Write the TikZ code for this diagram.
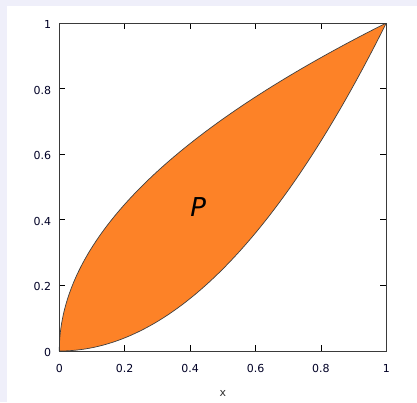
\documentclass[tikz,border=0pt]{standalone}
\usepackage{fontspec}
\setmainfont{DejaVu Sans}
\definecolor{lav}{HTML}{EFEFFA}
\definecolor{fillor}{HTML}{FD8227}
\definecolor{framegray}{HTML}{3A3A3A}
\begin{document}
\begin{tikzpicture}[x=1pt,y=1pt,
  ticklab/.style={font=\fontsize{11}{13}\selectfont, text=black!85!blue, inner sep=0pt},
  tickmark/.style={line width=0.8pt, black}]
\useasboundingbox (0,0) rectangle (417,402);
\fill[lav] (0,0) rectangle (417,402);
\fill[white] (7,0) rectangle (417,396);
\begin{scope}[shift={(59.3,51)}, x=327pt, y=328pt]
  % region
  \fill[fillor] plot[domain=0:1, samples=200, variable=\t] ({\t*\t},{\t})
       -- plot[domain=1:0, samples=100, variable=\t] ({\t},{\t*\t}) -- cycle;
  \draw[black!75, line width=0.7pt] plot[domain=0:1, samples=200, variable=\t] ({\t*\t},{\t});
  \draw[black!75, line width=0.7pt] plot[domain=0:1, samples=100, variable=\t] ({\t},{\t*\t});
  % ticks
  \foreach \v in {0.2,0.4,0.6,0.8} {
    \draw[tickmark] (\v,0) -- ++(0,6pt);
    \draw[tickmark] (\v,1) -- ++(0,-6pt);
    \draw[tickmark] (0,\v) -- ++(6pt,0);
    \draw[tickmark] (1,\v) -- ++(-6pt,0);
  }
  % frame
  \draw[framegray, line width=0.9pt] (0,0) rectangle (1,1);
  % labels
  \foreach \v/\l in {0/0,0.2/0.2,0.4/0.4,0.6/0.6,0.8/0.8,1/1} {
    \node[ticklab, anchor=east] (yl\l) at ([xshift=-8pt,yshift=-1.5pt]0,\v) {\l};
    \node[ticklab] (xl\l) at ([yshift=-17pt]\v,0) {\l};
  }
  \node[font=\fontsize{11}{13}\selectfont, text=black!80, inner sep=0pt] (xlab) at ([yshift=-42pt]0.5,0) {x};
  \node[font=\fontsize{26}{30}\selectfont\itshape, inner sep=0pt] (P) at (0.425,0.44) {P};
\end{scope}
\end{tikzpicture}
\end{document}
